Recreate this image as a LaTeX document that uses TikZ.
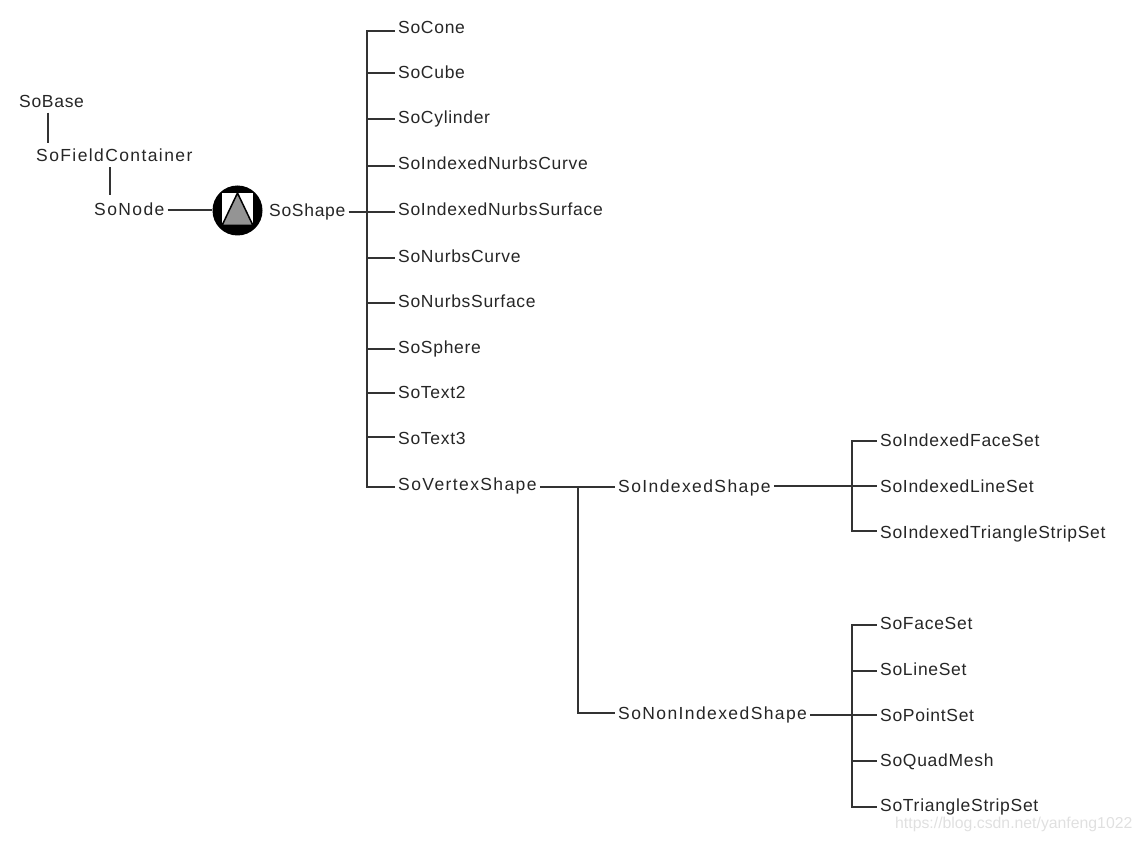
\documentclass[tikz,border=0pt]{standalone}
\usepackage{fontspec}
\setmainfont{Liberation Sans}
\newfontfamily\clsfont[LetterSpace=4]{Liberation Sans}
\newfontfamily\clswidefont[LetterSpace=8]{Liberation Sans}
\definecolor{markgray}{gray}{0.88}
\definecolor{conegray}{gray}{0.58}
\tikzset{
    cls/.style={anchor=west, inner xsep=3pt, inner ysep=1pt, text height=12pt, text depth=3pt, text=black!85, font=\clsfont\fontsize{17.5}{18}\selectfont},
    clswide/.style={cls, font=\clswidefont\fontsize{17.5}{18}\selectfont},
    link/.style={draw=black!80, line width=2pt}
}
\begin{document}
\begin{tikzpicture}[x=1pt,y=-1pt]
    \useasboundingbox (0,0) rectangle (1142,842);
    % top of the hierarchy
    \node[cls] (SoBase) at (16,103) {SoBase};
    \node[clswide] (SoFieldContainer) at (33,157.5) {SoFieldContainer};
    \node[clswide] (SoNode) at (91,211.5) {SoNode};
    \node[circle, fill=black, minimum size=50pt, inner sep=0pt] (icon) at (237.5,210.5) {};
    \node[cls] (SoShape) at (266,212) {SoShape};
    \draw[link, shorten <=1pt, shorten >=6pt] ([xshift=-3.5pt]SoBase.south) -- ([xshift=-3.5pt]SoBase.south |- SoFieldContainer.north);
    \draw[link, shorten <=1pt, shorten >=8pt] ([xshift=-4.5pt]SoFieldContainer.south) -- ([xshift=-4.5pt]SoFieldContainer.south |- SoNode.north);
    \draw[link] ([shift={(0,-1.5)}]SoNode.east) -- ([shift={(0,-1.5)}]SoNode.east -| icon.west);

    % icon
    \fill[white] ([shift={(-15.5,-17.5)}]icon.center) rectangle ([shift={(15.5,15)}]icon.center);
    \draw[black, line width=1.5pt, fill=conegray] ([shift={(0,-17.5)}]icon.center) -- ([shift={(-15.5,15)}]icon.center) -- ([shift={(15.5,15)}]icon.center) -- cycle;

    % SoShape children
    \coordinate (shapeBus) at (367,212);
    \foreach \n/\y/\d in {SoCone/29/2, SoCube/74.5/-1.5, SoCylinder/119.5/-0.5, SoIndexedNurbsCurve/165.5/0.5,
        SoIndexedNurbsSurface/211.5/0.5, SoNurbsCurve/258/0, SoNurbsSurface/303/0, SoSphere/348.5/0.5,
        SoText2/394/-1, SoText3/439.5/-2.5}
    {
        \node[cls] (\n) at (395,\y) {\n};
        \draw[link] (shapeBus) |- ([shift={(0,\d)}]\n.west);
    }
    \node[clswide] (SoVertexShape) at (395,485.5) {SoVertexShape};
    \draw[link] (shapeBus) |- ([shift={(0,1)}]SoVertexShape.west);
    \draw[link] (SoShape.east) -- (shapeBus);

    % SoVertexShape children
    \coordinate (vertexBus) at (578,486.5);
    \node[clswide] (SoIndexedShape) at (615,488) {SoIndexedShape};
    \node[clswide] (SoNonIndexedShape) at (615,715) {SoNonIndexedShape};
    \draw[link] ([shift={(0,1)}]SoVertexShape.east) -- ([shift={(0,-1.5)}]SoIndexedShape.west);
    \draw[link] (vertexBus) |- ([shift={(0,-1.7)}]SoNonIndexedShape.west);

    % SoIndexedShape children
    \coordinate (indexedBus) at (852,486);
    \foreach \n/\y/\d in {SoIndexedFaceSet/441.5/-1, SoIndexedLineSet/487.5/-1.5, SoIndexedTriangleStripSet/533.5/-3}
    {
        \node[cls] (\n) at (877,\y) {\n};
        \draw[link] (indexedBus) |- ([shift={(0,\d)}]\n.west);
    }
    \draw[link] ([shift={(0,-2)}]SoIndexedShape.east) -- (indexedBus);

    % SoNonIndexedShape children
    \coordinate (nonIndexedBus) at (852,714.5);
    \foreach \n/\y/\d in {SoFaceSet/625/0, SoLineSet/671/0, SoPointSet/716.5/-2, SoQuadMesh/762/-1.5, SoTriangleStripSet/806.5/0}
    {
        \node[cls] (\n) at (877,\y) {\n};
        \draw[link] (nonIndexedBus) |- ([shift={(0,\d)}]\n.west);
    }
    \draw[link] ([shift={(0,-0.5)}]SoNonIndexedShape.east) -- (nonIndexedBus);

    % watermark
    \node[anchor=west, inner sep=0pt, text=markgray, font=\fontsize{15.8}{18}\selectfont] (webmark) at (895,824) {https://blog.csdn.net/yanfeng1022};
\end{tikzpicture}
\end{document}
